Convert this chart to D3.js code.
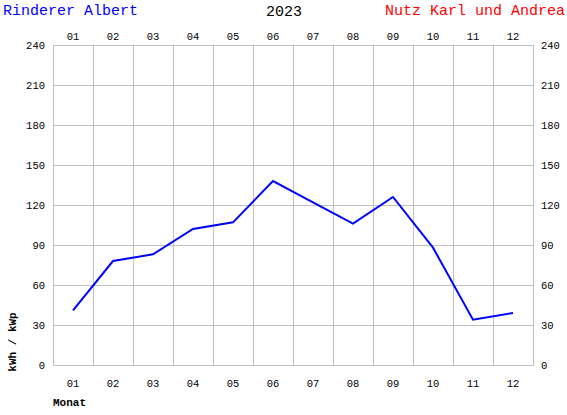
<!DOCTYPE html>
<html><head><meta charset="utf-8">
<script src="https://cdn.jsdelivr.net/npm/d3@7"></script>
<style>body{margin:0;background:#fff}svg{display:block}text{font-family:"Liberation Mono","DejaVu Sans Mono",monospace}</style>
</head><body>
<script>
const months = ["01","02","03","04","05","06","07","08","09","10","11","12"];
const values = [41, 78, 83, 102, 107, 138, 122, 106, 126, 88, 34, 39];
const yTicks = [0, 30, 60, 90, 120, 150, 180, 210, 240];
const titleLeft = "Rinderer Albert", titleMid = "2023", titleRight = "Nutz Karl und Andrea";
const yLabel = "kWh / kWp", xLabel = "Monat";

const W = 567, H = 415;
const m = {l: 53, r: 34, t: 45, b: 50};
const svg = d3.select("body").append("svg").attr("width", W).attr("height", H);
const x = d3.scaleBand().domain(months).range([m.l, W - m.r]);
const y = d3.scaleLinear().domain([0, 240]).range([H - m.b, m.t]);
const grid = "#c0c0c0";

// grid
svg.append("g").selectAll("line").data(yTicks).join("line")
  .attr("x1", m.l).attr("x2", W - m.r).attr("y1", d => y(d) + 0.5).attr("y2", d => y(d) + 0.5)
  .attr("stroke", grid);
svg.append("g").selectAll("line").data(months.slice(1)).join("line")
  .attr("x1", d => x(d) + 0.5).attr("x2", d => x(d) + 0.5).attr("y1", m.t).attr("y2", H - m.b)
  .attr("stroke", grid);
svg.append("rect").attr("x", m.l + 0.5).attr("y", m.t + 0.5)
  .attr("width", W - m.l - m.r).attr("height", H - m.t - m.b)
  .attr("fill", "none").attr("stroke", grid);

// axes labels
const fs = "10.5px";
svg.append("g").selectAll("text").data(yTicks).join("text")
  .attr("x", 45).attr("y", d => y(d) + 4).attr("text-anchor", "end")
  .attr("font-size", fs).text(d => d);
svg.append("g").selectAll("text").data(yTicks).join("text")
  .attr("x", 541).attr("y", d => y(d) + 4).attr("text-anchor", "start")
  .attr("font-size", fs).text(d => d);
svg.append("g").selectAll("text").data(months).join("text")
  .attr("x", d => x(d) + x.bandwidth() / 2).attr("y", 40).attr("text-anchor", "middle")
  .attr("font-size", fs).text(d => d);
svg.append("g").selectAll("text").data(months).join("text")
  .attr("x", d => x(d) + x.bandwidth() / 2).attr("y", 387).attr("text-anchor", "middle")
  .attr("font-size", fs).text(d => d);

// line
const line = d3.line().x((d, i) => x(months[i]) + x.bandwidth() / 2).y(d => y(d));
svg.append("path").datum(values).attr("d", line)
  .attr("fill", "none").attr("stroke", "#0000ff").attr("stroke-width", 2);

// titles
svg.append("text").attr("x", 3).attr("y", 15).attr("font-size", "15px").attr("fill", "#0000ff").text(titleLeft);
svg.append("text").attr("x", 284).attr("y", 16).attr("font-size", "15px").attr("text-anchor", "middle").attr("fill", "#000").text(titleMid);
svg.append("text").attr("x", 565).attr("y", 15).attr("font-size", "15px").attr("text-anchor", "end").attr("fill", "#ff0000").text(titleRight);

svg.append("text").attr("transform", "translate(16,342) rotate(-90)").attr("text-anchor", "middle")
  .attr("font-size", "11px").attr("font-weight", "bold").text(yLabel);
svg.append("text").attr("x", 53).attr("y", 406).attr("font-size", "11px").attr("font-weight", "bold").text(xLabel);
</script>
</body></html>
